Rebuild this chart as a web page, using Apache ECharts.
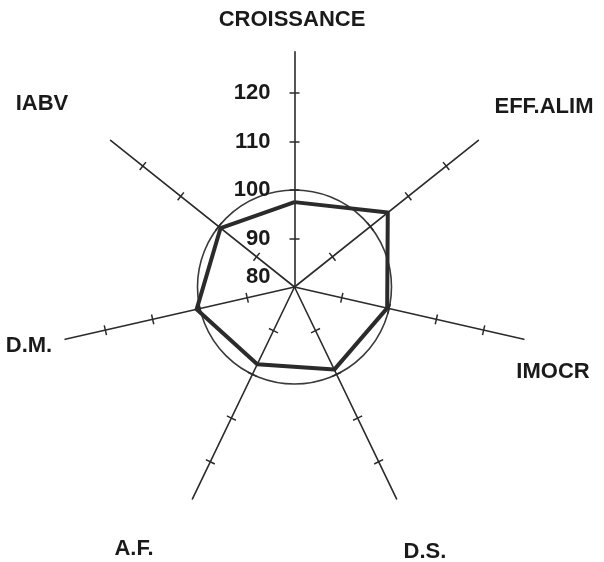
<!DOCTYPE html>
<html>
<head>
<meta charset="utf-8">
<title>Radar</title>
<script src="https://cdn.jsdelivr.net/npm/echarts@6.0.0/dist/echarts.min.js"></script>
<style>
  html, body { margin: 0; padding: 0; background: #fff; }
  #chart { width: 604px; height: 562px; }
</style>
</head>
<body>
<div id="chart"></div>
<script>
// axes, counter-clockwise from the top (echarts radar order)
var categories = ['CROISSANCE', 'IABV', 'D.M.', 'A.F.', 'D.S.', 'IMOCR', 'EFF.ALIM'];
var values = [97.5, 99.5, 100.7, 97.7, 98.9, 99.6, 104.6];
var tickLabels = [80, 90, 100, 110, 120];
var refLevel = 100; // the thin ring

// where the axis names sit (picture px)
var namePos = [[292, 20], [42, 104], [29, 346], [134, 549], [425, 552], [553, 372], [544, 107]];

var center = [294.5, 287];
var pxPerUnit = 4.85;
var scaleMin = tickLabels[0];
var scaleMax = tickLabels[tickLabels.length - 1];
var lineMax = 128.5; // axis lines run a bit past the last tick

var dark = '#2b2b2b';
var font = 'Liberation Sans, Arial, sans-serif';

function indicators(extraFirst) {
  return categories.map(function (c, i) {
    var ind = { name: c, min: scaleMin, max: scaleMax };
    if (i === 0 && extraFirst) {
      ind.axisLabel = extraFirst;
    }
    return ind;
  });
}

var ringColors = tickLabels.map(function (t) {
  return t === refLevel ? '#3a3a3a' : 'rgba(0,0,0,0)';
});

// no tick at the centre
var tickValues = tickLabels.filter(function (t) { return t > scaleMin; });

function baseRadar() {
  return {
    center: center,
    radius: (scaleMax - scaleMin) * pxPerUnit,
    startAngle: 90,
    shape: 'circle',
    splitNumber: tickLabels.length - 1,
    axisName: { show: false },
    axisLine: { show: false },
    axisTick: { show: false },
    axisLabel: { show: false },
    splitLine: { show: false },
    splitArea: { show: false },
    indicator: indicators(null)
  };
}

// two copies, one per side, so the ticks cross the axis
function tickRadar(len) {
  var r = baseRadar();
  r.axisTick = { show: true, length: len, customValues: tickValues, lineStyle: { color: dark, width: 1.5 } };
  return r;
}

var mainRadar = baseRadar();
mainRadar.indicator = indicators({
  show: true,
  margin: 24,
  color: '#1a1a1a',
  fontSize: 22,
  fontWeight: 'bold',
  fontFamily: font,
  formatter: function (v) {
    return v === scaleMin ? '{low|' + v + '}' : v;
  },
  rich: {
    low: { fontSize: 22, fontWeight: 'bold', fontFamily: font, color: '#1a1a1a', padding: [0, 0, 20, 0] }
  }
});
mainRadar.splitLine = { show: true, lineStyle: { color: ringColors, width: 1.6 } };

var lineRadar = {
  center: center,
  radius: (lineMax - scaleMin) * pxPerUnit,
  startAngle: 90,
  indicator: categories.map(function () { return { min: scaleMin, max: lineMax }; }),
  axisName: { show: false },
  axisLine: { show: true, lineStyle: { color: dark, width: 1.6 } },
  axisTick: { show: false },
  axisLabel: { show: false },
  splitLine: { show: false },
  splitArea: { show: false }
};

var chart = echarts.init(document.getElementById('chart'));
chart.setOption({
  backgroundColor: '#fff',
  animation: false,
  radar: [mainRadar, tickRadar(5), tickRadar(-5), lineRadar],
  graphic: categories.map(function (c, i) {
    return {
      type: 'text',
      x: namePos[i][0],
      y: namePos[i][1],
      style: {
        text: c,
        fill: '#1a1a1a',
        font: 'bold 22px ' + font,
        textAlign: 'center',
        textVerticalAlign: 'middle'
      }
    };
  }),
  series: [
    {
      type: 'radar',
      radarIndex: 0,
      symbol: 'none',
      lineStyle: { color: dark, width: 4 },
      data: [{ value: values, name: 'profil' }]
    }
  ]
});
</script>
</body>
</html>
